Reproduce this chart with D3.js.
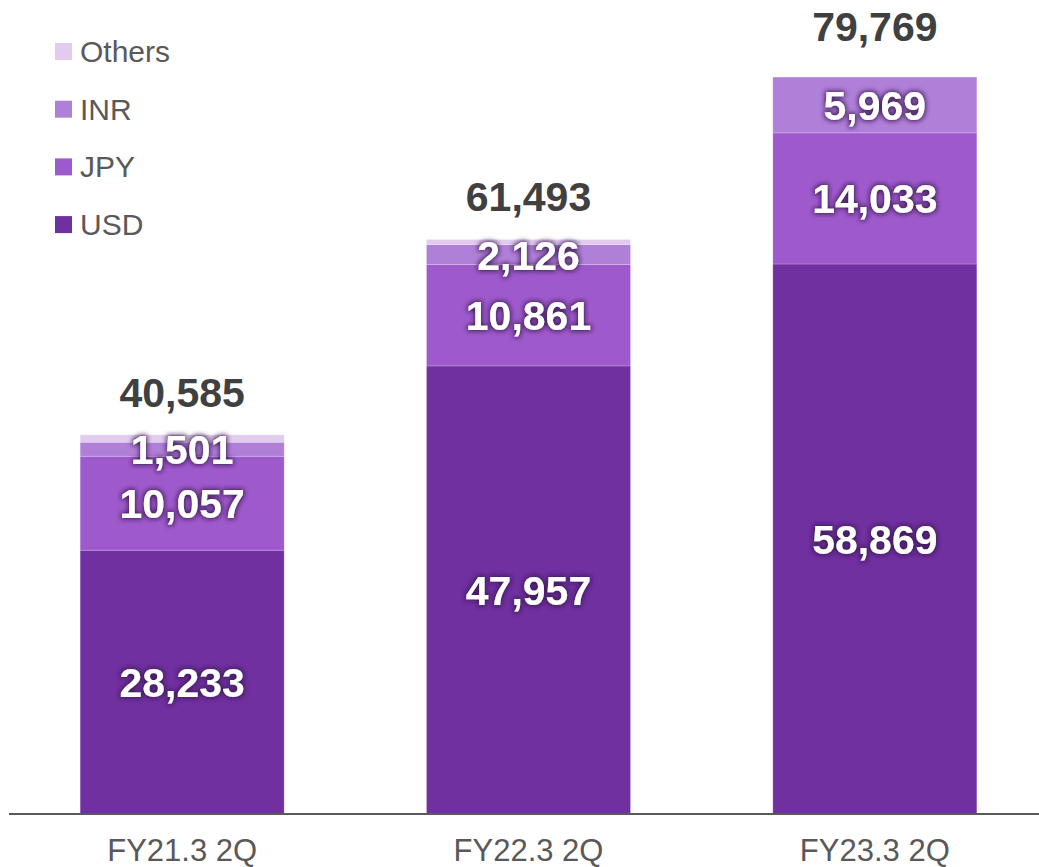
<!DOCTYPE html>
<html><head><meta charset="utf-8">
<script src="https://cdn.jsdelivr.net/npm/d3@7"></script>
<style>body{margin:0;background:#fff}svg{display:block}</style>
</head><body>
<svg id="c" width="1039" height="867"></svg>
<script>
const categories = ["FY21.3 2Q", "FY22.3 2Q", "FY23.3 2Q"];
const seriesNames = ["USD", "JPY", "INR", "Others"];
const usd = [28233, 47957, 58869];
const jpy = [10057, 10861, 14033];
const inr = [1501, 2126, 5969];
const others = [794, 549, 0];
const totals = [40585, 61493, 79769];
const colors = ["#7030A0", "#9E5ACC", "#B07FD8", "#E1CCEF"];
const legendOrder = ["Others", "INR", "JPY", "USD"];

const svg = d3.select("#c");
const baseY = 814;
const x = d3.scaleBand().domain(categories).range([9, 1048]).paddingInner(0.411).paddingOuter(0.2055);
const y = d3.scaleLinear().domain([0, 80000]).range([baseY, baseY - 80000 * 0.009343]);

const defs = svg.append("defs");
const f = defs.append("filter").attr("id", "glow").attr("x", "-20%").attr("y", "-40%").attr("width", "140%").attr("height", "180%");
f.append("feMorphology").attr("in", "SourceAlpha").attr("operator", "dilate").attr("radius", 1.2).attr("result", "d");
f.append("feGaussianBlur").attr("in", "d").attr("stdDeviation", 2.4).attr("result", "b");
f.append("feFlood").attr("flood-color", "#36164f").attr("flood-opacity", 0.95);
f.append("feComposite").attr("in2", "b").attr("operator", "in").attr("result", "s");
const m = f.append("feMerge");
m.append("feMergeNode").attr("in", "s");
m.append("feMergeNode").attr("in", "SourceGraphic");

const rows = categories.map((c, i) => ({cat: c, USD: usd[i], JPY: jpy[i], INR: inr[i], Others: others[i]}));
const stack = d3.stack().keys(seriesNames)(rows);

const g = svg.append("g");
stack.forEach((s, si) => {
  g.selectAll(null).data(s).enter().append("rect")
    .attr("x", d => x(d.data.cat))
    .attr("width", x.bandwidth())
    .attr("y", d => y(d[1]))
    .attr("height", d => y(d[0]) - y(d[1]))
    .attr("fill", colors[si])
    .attr("stroke", "rgba(255,255,255,0.25)")
    .attr("stroke-width", 0.8);
});

// axis line
svg.append("line").attr("x1", 9).attr("x2", 1039).attr("y1", baseY).attr("y2", baseY)
  .attr("stroke", "#595959").attr("stroke-width", 2);

// segment labels (USD, JPY, INR)
const font = "'Liberation Sans', Arial, sans-serif";
stack.slice(0, 3).forEach((s) => {
  g.selectAll(null).data(s).enter().append("text")
    .attr("x", d => x(d.data.cat) + x.bandwidth() / 2)
    .attr("y", d => (y(d[0]) + y(d[1])) / 2 + 15)
    .attr("text-anchor", "middle")
    .attr("font-family", font).attr("font-weight", "bold").attr("font-size", 41)
    .attr("fill", "#fff").attr("filter", "url(#glow)")
    .text(d => d3.format(",")(d[1] - d[0]));
});

// totals
svg.selectAll(null).data(categories).enter().append("text")
  .attr("x", c => x(c) + x.bandwidth() / 2)
  .attr("y", (c, i) => y(totals[i]) - 28)
  .attr("text-anchor", "middle")
  .attr("font-family", font).attr("font-weight", "bold").attr("font-size", 41)
  .attr("fill", "#404040")
  .text((c, i) => d3.format(",")(totals[i]));

// category labels
svg.selectAll(null).data(categories).enter().append("text")
  .attr("x", c => x(c) + x.bandwidth() / 2)
  .attr("y", 861)
  .attr("text-anchor", "middle")
  .attr("font-family", font).attr("font-size", 31)
  .attr("fill", "#595959")
  .text(c => c);

// legend
const lg = svg.append("g");
legendOrder.forEach((name, i) => {
  const yy = 43 + i * 57.7;
  lg.append("rect").attr("x", 55).attr("y", yy).attr("width", 17).attr("height", 17)
    .attr("fill", colors[seriesNames.indexOf(name)]);
  lg.append("text").attr("x", 80).attr("y", yy + 19).attr("font-family", font).attr("font-size", 30)
    .attr("fill", "#595959").text(name);
});
</script>
</body></html>
